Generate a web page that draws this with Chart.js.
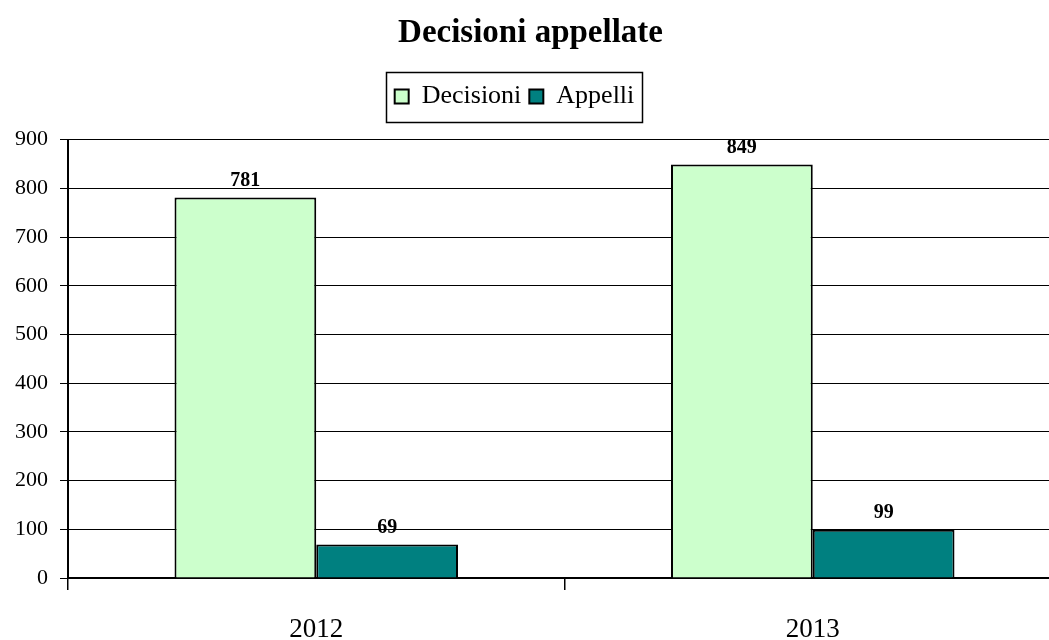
<!DOCTYPE html>
<html><head><meta charset="utf-8">
<script src="https://cdn.jsdelivr.net/npm/chart.js@4"></script>
<style>
html,body{margin:0;padding:0;overflow:hidden;background:#fff;width:1049px;height:640px}
#wrap{width:1061px;height:640px;position:relative}
</style></head>
<body><div id="wrap"><canvas id="c" width="1061" height="640"></canvas></div>
<script>
const categories = ['2012', '2013'];
const decisioni = [781, 849];
const appelli = [69, 99];
const seriesNames = ['Decisioni', 'Appelli'];
const titleText = 'Decisioni appellate';
const yMin = 0, yMax = 900, yStep = 100;

const SERIF = '"Liberation Serif", "Times New Roman", serif';

const legendPatch = {
  id: 'legendPatch',
  beforeLayout(chart) {
    const l = chart.legend;
    if (l && !l._patched) {
      const f = l.fit.bind(l);
      l.fit = function () { f(); this.height += 20; };
      l._patched = true;
    }
  },
  afterLayout(chart) {
    const l = chart.legend;
    if (l) { l.left -= 16; l.right -= 16; }
  },
  afterDraw(chart) {
    const hb = chart.legend && chart.legend.legendHitBoxes;
    if (!hb || !hb.length) return;
    let left = Infinity, right = -Infinity, top = Infinity, bottom = -Infinity;
    hb.forEach(b => {
      left = Math.min(left, b.left); right = Math.max(right, b.left + b.width);
      top = Math.min(top, b.top); bottom = Math.max(bottom, b.top + b.height);
    });
    const ctx = chart.ctx;
    ctx.save();
    ctx.strokeStyle = '#000';
    ctx.lineWidth = 1.5;
    ctx.strokeRect(Math.round(left - 9) + 0.5, Math.round(top - 12) + 0.5,
      Math.round(right - left + 16), Math.round(bottom - top + 24));
    ctx.restore();
  }
};

const barLabels = {
  id: 'barLabels',
  afterDatasetsDraw(chart) {
    const ctx = chart.ctx;
    ctx.save();
    ctx.font = 'bold 20px ' + SERIF;
    ctx.fillStyle = '#000';
    ctx.textAlign = 'center';
    ctx.textBaseline = 'middle';
    chart.data.datasets.forEach((ds, di) => {
      chart.getDatasetMeta(di).data.forEach((bar, i) => {
        ctx.fillText(String(ds.data[i]), bar.x, bar.y - 17);
      });
    });
    ctx.restore();
  }
};

new Chart(document.getElementById('c'), {
  type: 'bar',
  data: {
    labels: categories,
    datasets: [
      { label: seriesNames[0], data: decisioni, backgroundColor: '#CCFFCC', borderColor: '#000', borderWidth: 2 },
      { label: seriesNames[1], data: appelli, backgroundColor: '#008080', borderColor: '#000', borderWidth: 2 }
    ]
  },
  options: {
    responsive: false,
    animation: false,
    devicePixelRatio: 1,
    categoryPercentage: 0.571,
    barPercentage: 1,
    layout: { padding: { left: 0, right: 0, top: 0, bottom: 0 } },
    plugins: {
      title: {
        display: true, text: titleText, color: '#000',
        font: { family: SERIF, size: 33, weight: 'bold' },
        padding: { top: 14, bottom: 22 }
      },
      legend: {
        display: true, position: 'top',
        labels: {
          color: '#000', font: { family: SERIF, size: 26 },
          boxWidth: 14, boxHeight: 14, padding: 8
        }
      },
      tooltip: { enabled: false }
    },
    scales: {
      x: {
        afterFit(s) { s.height = 62; },
        grid: { display: true, offset: true, drawOnChartArea: false, drawTicks: true, tickLength: 12, color: '#000', lineWidth: 1.5 },
        border: { display: true, color: '#000', width: 2 },
        ticks: { color: '#000', font: { family: SERIF, size: 27 }, padding: 24 }
      },
      y: {
        min: yMin, max: yMax,
        afterFit(s) { s.width = 68; },
        grid: { color: '#000', lineWidth: 1, tickLength: 8, drawTicks: true },
        border: { display: true, color: '#000', width: 2 },
        ticks: { stepSize: yStep, color: '#000', font: { family: SERIF, size: 22 }, padding: 12 }
      }
    }
  },
  plugins: [legendPatch, barLabels]
});
</script>
</body></html>
